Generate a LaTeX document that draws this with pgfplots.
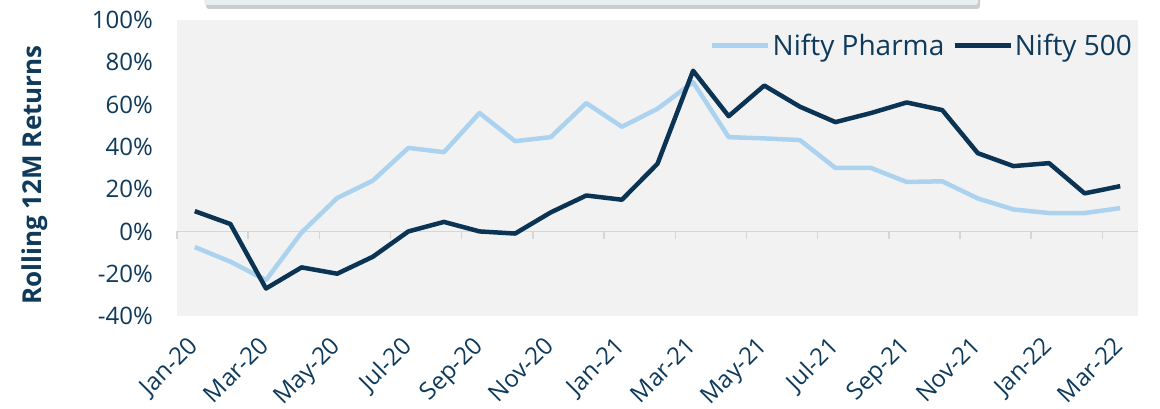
\documentclass[border=0pt]{standalone}
\usepackage{fontspec}
\setmainfont{Open Sans}
\usepackage{pgfplots}
\pgfplotsset{compat=1.18}
\usetikzlibrary{shadows}
\definecolor{navy}{HTML}{0B3454}
\definecolor{navytxt}{HTML}{0E3A5C}
\definecolor{lightblue}{HTML}{ABD3F0}
\definecolor{plotbg}{HTML}{F2F2F2}
\definecolor{zeroline}{HTML}{D6D6D6}
\definecolor{titlebox}{HTML}{E8EFF3}

\begin{document}
\begin{tikzpicture}
\clip (-177bp,-93bp) rectangle (983bp,316bp);
\fill[white] (-177bp,-93bp) rectangle (983bp,316bp);
% cut-off title box at the top
\fill[titlebox, drop shadow={shadow xshift=2bp, shadow yshift=-4bp, opacity=0.4}, rounded corners=3bp]
  (27bp,311bp) rectangle (801bp,340bp);
\begin{axis}[
  at={(0,0)}, anchor=south west,
  scale only axis, width=961bp, height=296bp,
  xmin=-0.5, xmax=26.5, ymin=-40, ymax=100,
  axis background/.style={fill=plotbg},
  axis line style={draw=none},
  tick style={draw=none},
  major tick length=0pt,
  xtick={0,2,...,26},
  xticklabels={Jan-20,Mar-20,May-20,Jul-20,Sep-20,Nov-20,Jan-21,Mar-21,May-21,Jul-21,Sep-21,Nov-21,Jan-22,Mar-22},
  ytick={-40,-20,...,100},
  yticklabel={\pgfmathprintnumber{\tick}\%},
  /pgf/number format/assume math mode=true,
  /pgf/number format/fixed, /pgf/number format/precision=0,
  ticklabel style={font=\fontsize{24bp}{28bp}\selectfont, text=navytxt},
  yticklabel style={anchor=east, inner sep=0pt, xshift=-24bp},
  xticklabel style={xshift=-8bp, yshift=-19bp, rotate=45, anchor=north east, inner sep=0pt},
  legend style={draw=none, fill=none, at={(1,1)}, anchor=north east,
    xshift=-4bp, yshift=-12bp, font=\fontsize{28bp}{32bp}\selectfont, text=navytxt,
    legend columns=2, /tikz/every even column/.append style={column sep=6bp},
    inner sep=0pt},
  legend image code/.code={\draw[#1] (0bp,0bp) -- (56bp,0bp);},
  clip=false,
]
\draw[zeroline, line width=1.5bp] (axis cs:-0.5,0) -- (axis cs:26.5,0);
\pgfplotsinvokeforeach{-0.5,1.5,3.5,5.5,7.5,9.5,11.5,13.5,15.5,17.5,19.5,21.5,23.5,25.5}{
  \draw[zeroline, line width=1.5bp] (axis cs:#1,0) -- ([yshift=-8bp]axis cs:#1,0);
}
\addplot[lightblue, line width=4.5bp, line join=round] coordinates {
  (0,-7.4) (1,-14.3) (2,-23) (3,-0.5) (4,15.8) (5,24) (6,39.5) (7,37.5)
  (8,56) (9,42.7) (10,44.6) (11,60.7) (12,49.5) (13,58) (14,70.6) (15,44.6)
  (16,44) (17,43.2) (18,30) (19,30) (20,23.4) (21,23.7) (22,15.6) (23,10.4)
  (24,8.7) (25,8.7) (26,11)
};
\addlegendentry{Nifty Pharma}
\addplot[navy, line width=4.5bp, line join=round] coordinates {
  (0,9.6) (1,3.5) (2,-27) (3,-17) (4,-20) (5,-12) (6,0) (7,4.5)
  (8,0) (9,-1) (10,9) (11,17) (12,15) (13,32) (14,76) (15,54.5)
  (16,69) (17,59) (18,51.7) (19,56) (20,61) (21,57.4) (22,37) (23,30.9)
  (24,32.3) (25,18) (26,21.4)
};
\addlegendentry{Nifty 500}
\end{axis}
\node[rotate=90, font=\fontsize{26bp}{30bp}\selectfont\bfseries, text=navytxt] at (-142bp,141bp) {Rolling 12M Returns};
\end{tikzpicture}
\end{document}
